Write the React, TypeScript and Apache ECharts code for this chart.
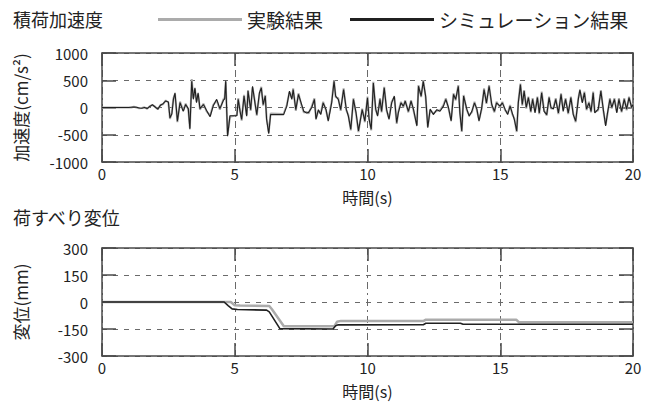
import React, { useEffect, useRef } from "react";
import * as echarts from "echarts";

// ---- Data ----
const timeTicks = { min: 0, max: 20, interval: 5 };
const accelTicks = { min: -1000, max: 1000, interval: 500 };
const dispTicks = { min: -300, max: 300, interval: 150 };

const legendNames = ["実験結果", "シミュレーション結果"];

// acceleration [time (s), cm/s^2] – simulation
const accelSimulation: [number, number][] = [
  [0,0],[1.0,0],[1.1,5],[1.2,10],[1.3,5],[1.4,-10],[1.5,-15],[1.6,0],[1.7,-20],[1.8,20],[1.9,50],[2.0,10],[2.1,-30],[2.2,40],[2.3,70],[2.4,120],[2.5,100],[2.56,-190],[2.63,-120],[2.69,150],[2.75,270],[2.84,-250],[2.94,90],[3.06,-70],[3.15,55],[3.25,-20],[3.31,-400],[3.38,480],[3.44,150],[3.5,360],[3.56,90],[3.62,270],[3.69,-20],[3.82,55],[3.94,-55],[4.07,-170],[4.19,30],[4.32,150],[4.44,-20],[4.57,130],[4.62,160],[4.66,490],[4.73,-525],[4.82,-150],[5.08,-150],[5.13,150],[5.2,-70],[5.26,-220],[5.35,210],[5.45,-160],[5.5,300],[5.6,-40],[5.67,390],[5.76,85],[5.83,-130],[5.93,270],[6.0,360],[6.07,55],[6.15,210],[6.2,-220],[6.28,-480],[6.35,-130],[6.84,-130],[6.96,25],[7.06,300],[7.15,150],[7.2,330],[7.3,-40],[7.4,240],[7.5,85],[7.6,-70],[7.7,-100],[7.78,-90],[7.9,0],[8.0,150],[8.06,-220],[8.15,-40],[8.24,-130],[8.33,85],[8.44,-40],[8.52,-250],[8.65,85],[8.74,480],[8.8,210],[8.9,150],[8.99,-40],[9.1,330],[9.2,-30],[9.28,-160],[9.37,-400],[9.47,150],[9.57,-100],[9.66,-430],[9.8,-40],[9.9,-250],[10.0,180],[10.06,-220],[10.14,-400],[10.22,450],[10.31,-30],[10.38,-160],[10.47,150],[10.53,-70],[10.63,360],[10.72,-40],[10.81,-220],[10.91,85],[11.01,210],[11.1,-280],[11.16,-100],[11.26,85],[11.35,25],[11.42,115],[11.54,-70],[11.64,115],[11.73,-30],[11.86,-340],[11.92,390],[12.02,210],[12.1,480],[12.19,210],[12.27,-370],[12.36,-30],[12.48,-130],[12.61,-40],[12.73,-70],[12.86,25],[12.95,150],[13.05,0],[13.15,-250],[13.24,240],[13.32,150],[13.42,390],[13.48,-100],[13.55,-430],[13.62,210],[13.74,-30],[13.83,-160],[13.93,-70],[14.03,85],[14.12,-30],[14.2,-250],[14.3,-10],[14.39,330],[14.48,85],[14.58,390],[14.68,55],[14.78,-70],[14.86,85],[14.99,25],[15.08,85],[15.18,-30],[15.28,-130],[15.37,25],[15.45,-100],[15.53,-220],[15.62,-430],[15.68,85],[15.76,420],[15.83,55],[15.9,300],[15.98,0],[16.06,180],[16.15,-70],[16.22,150],[16.31,-100],[16.4,180],[16.47,-100],[16.56,270],[16.65,-70],[16.75,-130],[16.84,180],[16.91,0],[17.0,-30],[17.09,150],[17.19,-100],[17.29,240],[17.37,-70],[17.46,150],[17.56,-100],[17.66,180],[17.75,-130],[17.84,-250],[17.94,150],[18.0,330],[18.09,85],[18.17,270],[18.25,-30],[18.34,85],[18.42,-70],[18.5,270],[18.56,-100],[18.69,-30],[18.79,300],[18.88,-30],[18.97,-340],[19.04,-100],[19.13,150],[19.2,0],[19.3,150],[19.39,-100],[19.47,150],[19.57,-70],[19.67,150],[19.76,-30],[19.85,180],[19.95,0],[20.0,55]
];

// acceleration [time (s), cm/s^2] – experiment
const accelExperiment: [number, number][] = [
  [0,0],[1.0,0],[1.1,0],[1.2,15],[1.3,0],[1.4,-15],[1.5,-10],[1.6,5],[1.7,-25],[1.8,25],[1.9,45],[2.0,15],[2.1,-35],[2.2,45],[2.3,60],[2.4,130],[2.5,90],[2.56,-210],[2.63,-100],[2.69,170],[2.75,250],[2.84,-270],[2.94,110],[3.06,-60],[3.15,70],[3.25,-40],[3.31,-380],[3.38,520],[3.44,170],[3.5,340],[3.56,110],[3.62,250],[3.69,-40],[3.82,70],[3.94,-70],[4.07,-150],[4.19,50],[4.32,130],[4.44,-40],[4.57,150],[4.62,180],[4.66,470],[4.73,-500],[4.82,-170],[5.08,-140],[5.13,170],[5.2,-50],[5.26,-240],[5.35,230],[5.45,-140],[5.5,320],[5.6,-60],[5.67,370],[5.76,105],[5.83,-150],[5.93,250],[6.0,380],[6.07,35],[6.15,230],[6.2,-200],[6.28,-460],[6.35,-110],[6.84,-120],[6.96,45],[7.06,280],[7.15,170],[7.2,350],[7.3,-60],[7.4,260],[7.5,65],[7.6,-90],[7.7,-80],[7.78,-110],[7.9,20],[8.0,170],[8.06,-200],[8.15,-60],[8.24,-110],[8.33,105],[8.44,-60],[8.52,-230],[8.65,105],[8.74,500],[8.8,190],[8.9,170],[8.99,-60],[9.1,350],[9.2,-50],[9.28,-140],[9.37,-420],[9.47,170],[9.57,-120],[9.66,-450],[9.8,-20],[9.9,-270],[10.0,200],[10.06,-200],[10.14,-420],[10.22,470],[10.31,-50],[10.38,-140],[10.47,170],[10.53,-90],[10.63,380],[10.72,-60],[10.81,-200],[10.91,105],[11.01,190],[11.1,-300],[11.16,-80],[11.26,105],[11.35,5],[11.42,135],[11.54,-90],[11.64,135],[11.73,-50],[11.86,-320],[11.92,410],[12.02,190],[12.1,500],[12.19,190],[12.27,-350],[12.36,-50],[12.48,-110],[12.61,-60],[12.73,-50],[12.86,45],[12.95,170],[13.05,-20],[13.15,-230],[13.24,260],[13.32,130],[13.42,410],[13.48,-80],[13.55,-450],[13.62,230],[13.74,-50],[13.83,-140],[13.93,-90],[14.03,105],[14.12,-50],[14.2,-230],[14.3,-30],[14.39,350],[14.48,65],[14.58,410],[14.68,35],[14.78,-90],[14.86,105],[14.99,5],[15.08,105],[15.18,-50],[15.28,-110],[15.37,45],[15.45,-120],[15.53,-200],[15.62,-450],[15.68,105],[15.76,440],[15.83,35],[15.9,320],[15.98,-20],[16.06,200],[16.15,-90],[16.22,170],[16.31,-80],[16.4,200],[16.47,-120],[16.56,290],[16.65,-50],[16.75,-150],[16.84,200],[16.91,-20],[17.0,-10],[17.09,170],[17.19,-120],[17.29,260],[17.37,-50],[17.46,170],[17.56,-120],[17.66,200],[17.75,-110],[17.84,-270],[17.94,170],[18.0,310],[18.09,105],[18.17,290],[18.25,-50],[18.34,105],[18.42,-90],[18.5,290],[18.56,-80],[18.69,-50],[18.79,320],[18.88,-50],[18.97,-320],[19.04,-120],[19.13,170],[19.2,-20],[19.3,170],[19.39,-80],[19.47,170],[19.57,-90],[19.67,170],[19.76,-50],[19.85,200],[19.95,-20],[20.0,75]
];

// slip displacement [time (s), mm]
const dispSimulation: [number, number][] = [
  [0,0],[4.6,0],[4.75,-20],[4.9,-38],[5.1,-42],[6.2,-45],[6.3,-55],[6.7,-148],[8.7,-150],[8.8,-132],[8.9,-127],[12.1,-126],[12.2,-118],[13.5,-118],[13.6,-124],[20,-124]
];
const dispExperiment: [number, number][] = [
  [0,0],[4.85,0],[5.0,-18],[5.2,-20],[6.3,-22],[6.4,-40],[6.85,-135],[8.75,-135],[8.85,-110],[9.0,-105],[12.1,-106],[12.2,-98],[15.6,-98],[15.7,-112],[20,-112]
];

const FONT = "'Noto Sans CJK JP', 'Noto Sans', sans-serif";
const AXIS_COLOR = "#4a4a4a";
const TEXT_COLOR = "#222";
const EXP_COLOR = "#ababab";
const SIM_COLOR = "#202020";

function xAxes(gridIndex: number) {
  const common = {
    gridIndex,
    type: "value" as const,
    min: timeTicks.min,
    max: timeTicks.max,
    interval: timeTicks.interval,
    axisLine: { show: true, onZero: false, lineStyle: { color: AXIS_COLOR, width: 1.5 } },
    axisTick: { show: true, inside: true, length: 13, lineStyle: { color: AXIS_COLOR, width: 1.5 } },
  };
  return [
    {
      ...common,
      position: "bottom",
      axisLabel: { show: true, fontSize: 15, lineHeight: 15, color: TEXT_COLOR, fontFamily: FONT, margin: 4, formatter: (v: number) => String(v) },
      splitLine: { show: true, lineStyle: { color: "#6a6a6a", width: 1, type: [7, 4, 2, 4] } },
      name: "時間(s)",
      nameLocation: "middle",
      nameGap: 27,
      nameTextStyle: { fontSize: 16, lineHeight: 16, color: TEXT_COLOR, fontFamily: FONT },
    },
    {
      ...common,
      position: "top",
      axisLabel: { show: false },
      splitLine: { show: false },
    },
  ];
}

function yAxes(gridIndex: number, ticks: { min: number; max: number; interval: number }, name: string) {
  const common = {
    gridIndex,
    type: "value" as const,
    min: ticks.min,
    max: ticks.max,
    interval: ticks.interval,
    axisLine: { show: true, onZero: false, lineStyle: { color: AXIS_COLOR, width: 1.5 } },
    axisTick: { show: true, inside: true, length: 14, lineStyle: { color: AXIS_COLOR, width: 1.5 } },
  };
  return [
    {
      ...common,
      position: "left",
      axisLabel: { show: true, fontSize: 15, color: TEXT_COLOR, fontFamily: FONT, margin: 14, formatter: (v: number) => String(v) },
      splitLine: { show: true, lineStyle: { color: "#6a6a6a", width: 1, type: [5, 6] } },
      name,
      nameLocation: "middle",
      nameRotate: 90,
      nameGap: 73,
      nameTextStyle: { fontSize: 17, color: TEXT_COLOR, fontFamily: FONT },
    },
    {
      ...common,
      position: "right",
      axisLabel: { show: false },
      splitLine: { show: false },
    },
  ];
}

export default function App() {
  const ref = useRef<HTMLDivElement>(null);
  useEffect(() => {
    if (!ref.current) return;
    const chart = echarts.init(ref.current, undefined, { renderer: "svg" });
    chart.setOption({
      animation: false,
      backgroundColor: "#fff",
      textStyle: { fontFamily: FONT },
      title: [
        { text: "積荷加速度", left: 13, top: 10, padding: 0, textStyle: { fontSize: 18, fontWeight: "normal", color: TEXT_COLOR, fontFamily: FONT } },
        { text: "荷すべり変位", left: 13, top: 208, padding: 0, textStyle: { fontSize: 18, fontWeight: "normal", color: TEXT_COLOR, fontFamily: FONT } },
      ],
      legend: {
        left: 158,
        top: 10,
        padding: 0,
        itemWidth: 84,
        itemHeight: 3,
        itemGap: 27,
        icon: "rect",
        textStyle: { fontSize: 19, color: TEXT_COLOR, fontFamily: FONT },
        data: [
          { name: legendNames[0], itemStyle: { color: EXP_COLOR } },
          { name: legendNames[1], itemStyle: { color: SIM_COLOR } },
        ],
      },
      grid: [
        { left: 102, top: 53, width: 531, height: 109 },
        { left: 102, top: 248, width: 531, height: 108 },
      ],
      xAxis: [...xAxes(0), ...xAxes(1)],
      yAxis: [
        ...yAxes(0, accelTicks, "加速度(cm/s²)"),
        ...yAxes(1, dispTicks, "変位(mm)"),
      ],
      series: [
        { name: legendNames[0], type: "line", xAxisIndex: 0, yAxisIndex: 0, data: accelExperiment, showSymbol: false, lineStyle: { color: EXP_COLOR, width: 2 }, itemStyle: { color: EXP_COLOR } },
        { name: legendNames[1], type: "line", xAxisIndex: 0, yAxisIndex: 0, data: accelSimulation, showSymbol: false, lineStyle: { color: SIM_COLOR, width: 1.1 }, itemStyle: { color: SIM_COLOR } },
        { name: legendNames[0], type: "line", xAxisIndex: 2, yAxisIndex: 2, data: dispExperiment, showSymbol: false, lineStyle: { color: EXP_COLOR, width: 2.5 }, itemStyle: { color: EXP_COLOR } },
        { name: legendNames[1], type: "line", xAxisIndex: 2, yAxisIndex: 2, data: dispSimulation, showSymbol: false, lineStyle: { color: SIM_COLOR, width: 1.6 }, itemStyle: { color: SIM_COLOR } },
      ],
    });
    return () => chart.dispose();
  }, []);
  return <div ref={ref} style={{ width: 646, height: 403, position: "fixed", left: 0, top: 0 }} />;
}
